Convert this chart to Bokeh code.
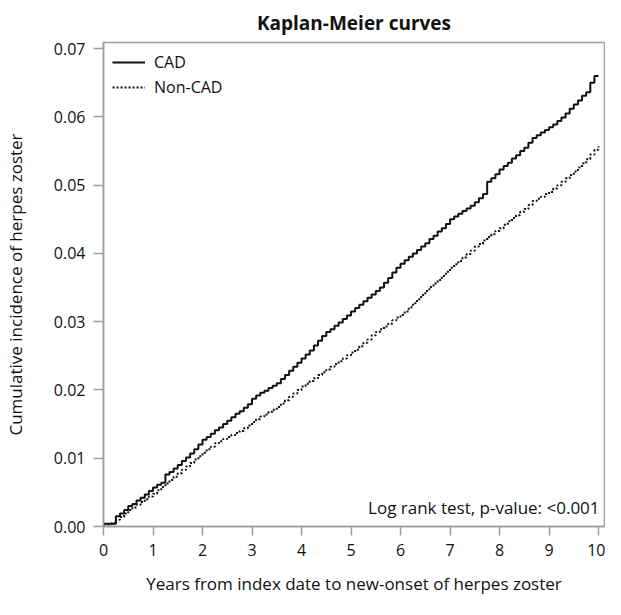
from bokeh.plotting import figure
from bokeh.models import FixedTicker, NumeralTickFormatter, Legend, LegendItem, Label, Range1d
from bokeh.embed import file_html
from bokeh.resources import INLINE

# ---- data ----
months = list(range(121))  # follow-up time in months (0..120)

cad = [
    0.0004, 0.0004, 0.0004, 0.0015, 0.0019, 0.0024, 0.0030, 0.0033, 0.0038, 0.0042, 0.0047, 0.0052, 0.0057,
    0.0061, 0.0064, 0.0076, 0.0080, 0.0085, 0.0090, 0.0096, 0.0101, 0.0107, 0.0113, 0.0120, 0.0127,
    0.0131, 0.0136, 0.0141, 0.0145, 0.0150, 0.0155, 0.0160, 0.0165, 0.0169, 0.0174, 0.0179, 0.0187,
    0.0192, 0.0196, 0.0199, 0.0203, 0.0206, 0.0210, 0.0216, 0.0222, 0.0228, 0.0234, 0.0240, 0.0246,
    0.0252, 0.0258, 0.0265, 0.0272, 0.0279, 0.0285, 0.0289, 0.0294, 0.0299, 0.0304, 0.0309, 0.0315,
    0.0320, 0.0325, 0.0330, 0.0335, 0.0340, 0.0345, 0.0350, 0.0357, 0.0364, 0.0372, 0.0379, 0.0385,
    0.0390, 0.0395, 0.0400, 0.0405, 0.0410, 0.0415, 0.0421, 0.0426, 0.0432, 0.0437, 0.0443, 0.0450,
    0.0454, 0.0458, 0.0462, 0.0466, 0.0470, 0.0475, 0.0481, 0.0487, 0.0505, 0.0510, 0.0516, 0.0523,
    0.0528, 0.0533, 0.0539, 0.0544, 0.0550, 0.0555, 0.0562, 0.0569, 0.0573, 0.0577, 0.0581, 0.0585,
    0.0589, 0.0594, 0.0599, 0.0605, 0.0612, 0.0618, 0.0624, 0.0631, 0.0636, 0.0650, 0.0660, 0.0660,
]

non_cad = [
    0.0003, 0.0003, 0.0005, 0.0010, 0.0014, 0.0019, 0.0024, 0.0028, 0.0032, 0.0036, 0.0040, 0.0044, 0.0048,
    0.0053, 0.0058, 0.0063, 0.0068, 0.0073, 0.0078, 0.0083, 0.0088, 0.0093, 0.0098, 0.0103, 0.0108,
    0.0113, 0.0117, 0.0122, 0.0125, 0.0128, 0.0131, 0.0134, 0.0137, 0.0140, 0.0144, 0.0148, 0.0153,
    0.0157, 0.0161, 0.0164, 0.0168, 0.0171, 0.0175, 0.0180, 0.0185, 0.0190, 0.0195, 0.0200, 0.0205,
    0.0209, 0.0213, 0.0217, 0.0222, 0.0226, 0.0230, 0.0234, 0.0238, 0.0242, 0.0246, 0.0251, 0.0255,
    0.0259, 0.0264, 0.0269, 0.0274, 0.0280, 0.0285, 0.0289, 0.0293, 0.0297, 0.0302, 0.0306, 0.0310,
    0.0315, 0.0321, 0.0327, 0.0333, 0.0339, 0.0345, 0.0351, 0.0356, 0.0361, 0.0367, 0.0373, 0.0379,
    0.0384, 0.0389, 0.0394, 0.0399, 0.0404, 0.0410, 0.0414, 0.0419, 0.0424, 0.0428, 0.0433, 0.0437,
    0.0442, 0.0447, 0.0452, 0.0456, 0.0461, 0.0465, 0.0471, 0.0477, 0.0480, 0.0483, 0.0487, 0.0490,
    0.0495, 0.0500, 0.0505, 0.0510, 0.0515, 0.0520, 0.0526, 0.0532, 0.0538, 0.0545, 0.0552, 0.0557,
]

x_ticks = [0, 1, 2, 3, 4, 5, 6, 7, 8, 9, 10]
y_ticks = [0.00, 0.01, 0.02, 0.03, 0.04, 0.05, 0.06, 0.07]
series_names = ["CAD", "Non-CAD"]
title_text = "Kaplan-Meier curves"
x_title = "Years from index date to new-onset of herpes zoster"
y_title = "Cumulative incidence of herpes zoster"
note_text = "Log rank test, p-value: <0.001"

years = [m / 12 for m in months]

FONT = "Open Sans"
GRAY = "#9c9c9c"
INK = "#111111"

p = figure(
    width=605, height=599,
    output_backend="svg", toolbar_location=None,
    x_range=Range1d(0, 10.12), y_range=Range1d(0, 0.0709),
    min_border_left=98, min_border_right=1, min_border_top=40, min_border_bottom=73,
    title=title_text,
)
p.title.align = "center"
p.title.text_font = FONT
p.title.text_font_size = "19px"
p.title.text_font_style = "bold"
p.title.text_color = INK
p.title.standoff = 14

p.xgrid.visible = False
p.ygrid.visible = False
p.outline_line_color = GRAY
p.outline_line_width = 1.5
p.background_fill_color = "white"
p.border_fill_color = "white"

for ax in (p.xaxis[0], p.yaxis[0]):
    ax.axis_line_color = GRAY
    ax.axis_line_width = 1.5
    ax.major_tick_line_color = GRAY
    ax.major_tick_line_width = 1.5
    ax.major_tick_in = 0
    ax.minor_tick_line_color = None
    ax.major_label_text_font = FONT
    ax.major_label_text_font_size = "16px"
    ax.major_label_text_color = INK
    ax.axis_label_text_font = FONT
    ax.axis_label_text_font_size = "17px"
    ax.axis_label_text_font_style = "normal"
    ax.axis_label_text_color = INK

p.xaxis.major_tick_out = 9
p.xaxis.major_label_standoff = 8
p.xaxis.axis_label_standoff = 13
p.yaxis.major_tick_out = 10
p.yaxis.major_label_standoff = 8
p.yaxis.axis_label_standoff = 24

p.xaxis.ticker = FixedTicker(ticks=x_ticks)
p.yaxis.ticker = FixedTicker(ticks=y_ticks)
p.yaxis.formatter = NumeralTickFormatter(format="0.00")
p.xaxis.axis_label = x_title
p.yaxis.axis_label = y_title

r_cad = p.step(years, cad, mode="after", line_color=INK, line_width=2)
r_non = p.step(years, non_cad, mode="after", line_color=INK, line_width=2, line_dash="2 2")

legend = Legend(
    items=[LegendItem(label=series_names[0], renderers=[r_cad]),
           LegendItem(label=series_names[1], renderers=[r_non])],
    location=(9, 428),
    border_line_color=None,
    background_fill_alpha=0,
    margin=0, padding=0,
    glyph_width=33, glyph_height=22, label_height=22,
    label_standoff=9, spacing=3,
    label_text_font=FONT, label_text_font_size="16px", label_text_color=INK,
)
p.add_layout(legend)

note = Label(x=10.02, y=0.0028, text=note_text, text_align="right", text_baseline="middle",
             text_font=FONT, text_font_size="17px", text_color=INK)
p.add_layout(note)

open("out.html", "w").write(file_html(p, INLINE))
